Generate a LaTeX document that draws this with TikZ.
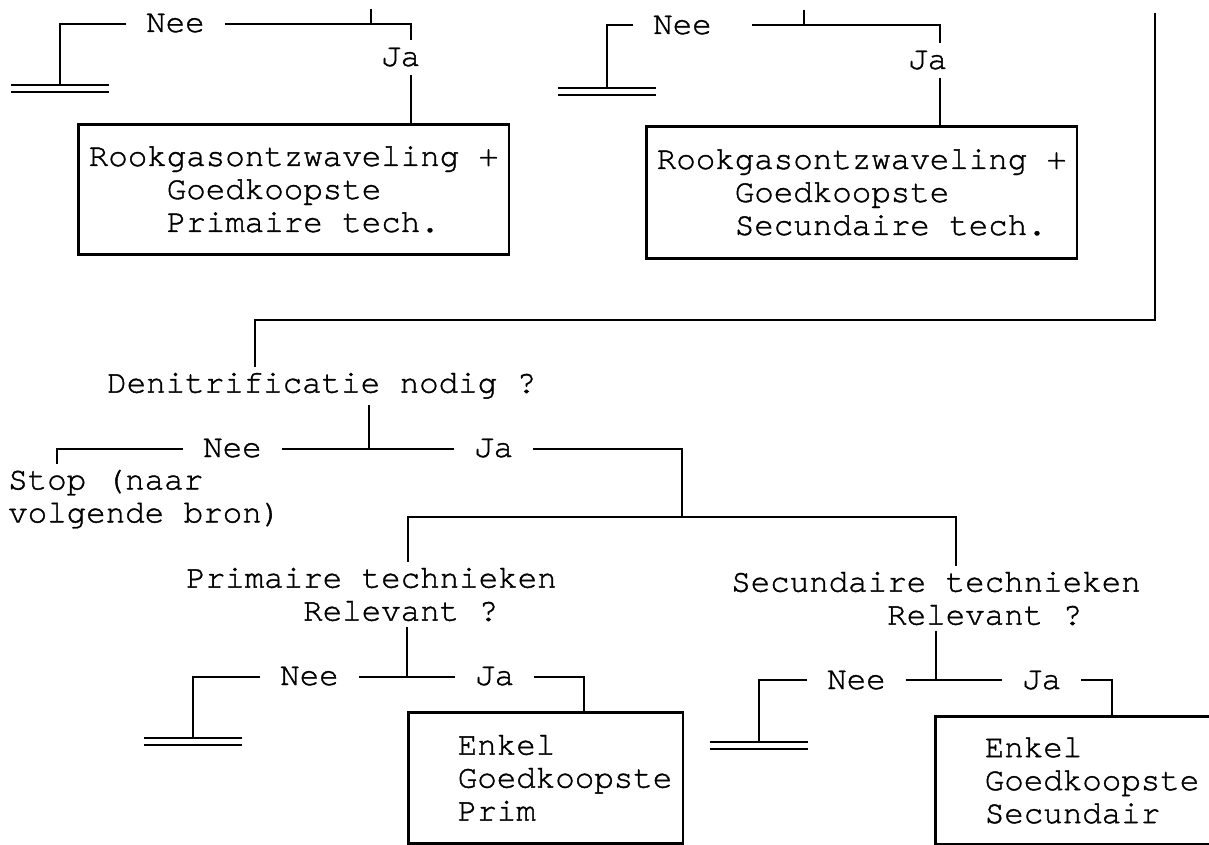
\documentclass[tikz,border=0pt]{standalone}
\usepackage{fontspec}
\usepackage{tikz}

\newfontface\cursorface{TeX Gyre Cursor}[FakeBold=1.2, Ligatures=NoCommon]
\newcommand{\chartfont}{\cursorface\fontsize{32.5}{33}\selectfont}
% double bar under a "Nee" branch
\newcommand{\stopbar}[1]{%
  \draw[bar] ([xshift=-49pt]#1) -- ([xshift=49pt]#1)
             ([xshift=-49pt,yshift=-7pt]#1) -- ([xshift=49pt,yshift=-7pt]#1);}

\tikzset{
  wire/.style={line width=2.6pt},
  bar/.style={line width=2.2pt},
  ans/.style={anchor=base west, inner xsep=20pt, inner ysep=8pt, font=\chartfont},
  ques/.style={anchor=north west, inner xsep=0pt, inner ysep=6pt, align=left, font=\chartfont},
  box/.style={draw, line width=2.6pt, anchor=north west, inner xsep=10.5pt, inner ysep=0pt, align=left, font=\chartfont},
}

\begin{document}
\begin{tikzpicture}[x=1pt, y=-1pt]
				\useasboundingbox (0,0) rectangle (1209,845);
				% Top left branch
				\node[ans] (neeA) at (126,32) {Nee};
				\node[ans] (jaA) at (361,66) {Ja};
				\node[box, minimum height=130pt] (boxA) at (77,123) {Rookgasontzwaveling +\\\phantom{0000}Goedkoopste\\\phantom{0000}Primaire tech.};
				\coordinate (inA) at (371,9);
				\coordinate (qA) at (371,24);
				\coordinate (cA) at (411,24);
				\coordinate (endA) at (60,85);
				\draw[wire] (inA) -- (qA);
				\draw[wire] (neeA.west |- qA) -- (endA |- qA) -- (endA);
				\draw[wire] (neeA.east |- qA) -- (cA) -- (cA |- jaA.north);
				\draw[wire] (cA |- jaA.south) -- (cA |- boxA.north);
				\stopbar{endA}
				% Top middle branch
				\node[ans] (neeB) at (633,34) {Nee};
				\node[ans] (jaB) at (888,69) {Ja};
				\node[box, minimum height=132pt] (boxB) at (645,125) {Rookgasontzwaveling +\\\phantom{0000}Goedkoopste\\\phantom{0000}Secundaire tech.};
				\coordinate (inB) at (804,10);
				\coordinate (qB) at (804,25);
				\coordinate (cB) at (940,25);
				\coordinate (endB) at (607,88);
				\draw[wire] (inB) -- (qB);
				\draw[wire] (neeB.west |- qB) -- (endB |- qB) -- (endB);
				\draw[wire] ([xshift=20pt]neeB.east |- qB) -- (cB) -- (cB |- jaB.north);
				\draw[wire] (cB |- jaB.south) -- (cB |- boxB.north);
				\stopbar{endB}
				% Denitrificatie
				\node[ques] (denit) at (107,366.6) {Denitrificatie nodig ?};
				\coordinate (inC) at (1155,13);
				\coordinate (cC) at (1155,320);
				\coordinate (dC) at (255,320);
				\draw[wire] (inC) -- (cC) -- (dC) -- (dC |- denit.north);
				\node[ans] (neeD) at (183,457) {Nee};
				\node[ans] (jaD) at (454,457) {Ja};
				\node[ques] (stop) at (8,463.6) {Stop (naar\\volgende bron)};
				\coordinate (qD) at (369,449);
				\coordinate (cD) at (682,449);
				\coordinate (endD) at (57,449);
				\coordinate (qE) at (682,517);
				\draw[wire] (qD |- denit.south) -- (qD);
				\draw[wire] (neeD.west |- qD) -- (endD) -- (endD |- stop.north);
				\draw[wire] (neeD.east |- qD) -- (jaD.west |- qD);
				\draw[wire] (jaD.east |- qD) -- (cD) -- (qE);
				% Primaire / Secundaire technieken
				\node[ques] (primq) at (186,561.6) {Primaire technieken\\\phantom{000000}Relevant ?};
				\node[ques] (secq) at (731,565.6) {Secundaire technieken\\\phantom{00000000}Relevant ?};
				\coordinate (lE) at (408,517);
				\coordinate (rE) at (956,517);
				\draw[wire] (lE |- primq.north) -- (lE) -- (rE) -- (rE |- secq.north);
				% Primaire branch
				\node[ans] (neeF) at (260,685) {Nee};
				\node[ans] (jaF) at (455,685) {Ja};
				\node[box, minimum height=131pt] (boxC) at (407,711) {\phantom{00}Enkel\\\phantom{00}Goedkoopste\\\phantom{00}Prim};
				\coordinate (qF) at (407,677);
				\coordinate (cF) at (584,677);
				\coordinate (endF) at (193,738);
				\draw[wire] (qF |- primq.south) -- (qF);
				\draw[wire] (neeF.west |- qF) -- (endF |- qF) -- (endF);
				\draw[wire] (neeF.east |- qF) -- (jaF.west |- qF);
				\draw[wire] (jaF.east |- qF) -- (cF) -- (cF |- boxC.north);
				\stopbar{endF}
				% Secundaire branch
				\node[ans] (neeG) at (807,689) {Nee};
				\node[ans] (jaG) at (1002,689) {Ja};
				\node[box, minimum height=128pt] (boxD) at (934,715) {\phantom{00}Enkel\\\phantom{00}Goedkoopste\\\phantom{00}Secundair};
				\coordinate (qG) at (936,680);
				\coordinate (cG) at (1112,680);
				\coordinate (endG) at (759,742);
				\draw[wire] (qG |- secq.south) -- (qG);
				\draw[wire] (neeG.west |- qG) -- (endG |- qG) -- (endG);
				\draw[wire] (neeG.east |- qG) -- (jaG.west |- qG);
				\draw[wire] (jaG.east |- qG) -- (cG) -- (cG |- boxD.north);
				\stopbar{endG}
\end{tikzpicture}
\end{document}
